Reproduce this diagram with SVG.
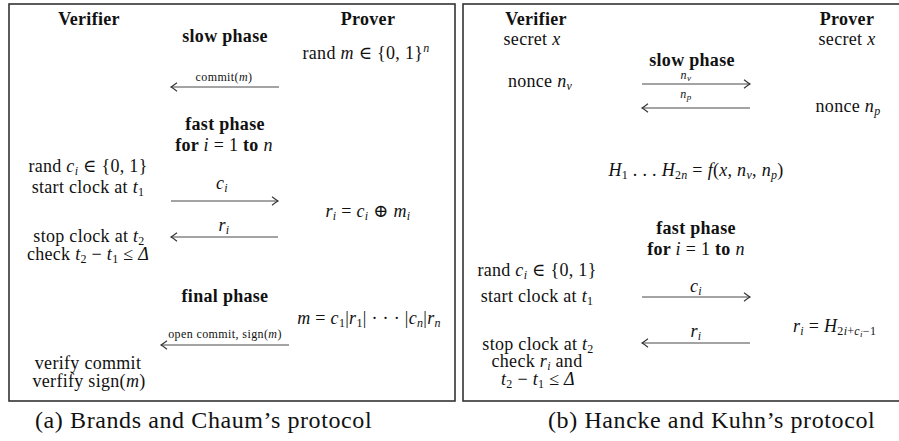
<svg xmlns="http://www.w3.org/2000/svg" width="899" height="441" viewBox="0 0 899 441" font-family="Liberation Serif, DejaVu Serif, Times New Roman, Times, serif">
<style>
text{font-size:18px;fill:#111;letter-spacing:0.3px}
.m{text-anchor:middle}
.b{font-weight:bold}
.i{font-style:italic}
.s{font-size:12px;letter-spacing:0.4px}
.sub{font-size:12px}
.cap{font-size:24px;letter-spacing:0.6px}
.frame{fill:none;stroke:#333;stroke-width:1.6}
.arr{stroke:#333;stroke-width:0.9;fill:none}
</style>
<defs>
<marker id="ah" markerUnits="userSpaceOnUse" markerWidth="12" markerHeight="12" refX="0" refY="0" viewBox="-8 -5 10 10" orient="auto">
<path d="M-5,-3.5 Q-1.5,-0.8 0,0 Q-1.5,0.8 -5,3.5" fill="none" stroke="#333" stroke-width="0.9"/>
</marker>
</defs>
<rect id="frameA" class="frame" x="9" y="4" width="446" height="397"/>
<rect id="frameB" class="frame" x="463" y="4" width="440" height="397"/>

<g id="connectors">
<line class="arr" x1="279" y1="87" x2="171" y2="87" marker-end="url(#ah)"/>
<line class="arr" x1="171" y1="201" x2="278" y2="201" marker-end="url(#ah)"/>
<line class="arr" x1="278" y1="237" x2="171" y2="237" marker-end="url(#ah)"/>
<line class="arr" x1="289" y1="345" x2="161" y2="345" marker-end="url(#ah)"/>
<line class="arr" x1="642" y1="84" x2="750" y2="84" marker-end="url(#ah)"/>
<line class="arr" x1="750" y1="108" x2="642" y2="108" marker-end="url(#ah)"/>
<line class="arr" x1="642" y1="297" x2="750" y2="297" marker-end="url(#ah)"/>
<line class="arr" x1="750" y1="343" x2="642" y2="343" marker-end="url(#ah)"/>
</g>

<g id="panelA">
<g id="a-verifier"><text class="m b" x="89" y="25">Verifier</text></g>
<g id="a-prover"><text class="m b" x="368" y="25">Prover</text></g>
<g id="a-slow"><text class="m b" x="225" y="42">slow phase</text></g>
<g id="a-randm"><text class="m" x="366" y="59">rand <tspan class="i">m</tspan> ∈ {0, 1}<tspan class="i sub" dy="-7">n</tspan></text></g>
<g id="a-commit"><text class="m s" x="224" y="81">commit(<tspan class="i">m</tspan>)</text></g>
<g id="a-fast"><text class="m b" x="225" y="130">fast phase</text><text class="m b" x="224" y="151">for <tspan class="i" font-weight="normal">i</tspan> <tspan font-weight="normal">= 1</tspan> to <tspan class="i" font-weight="normal">n</tspan></text></g>
<g id="a-randc"><text class="m" x="88" y="172">rand <tspan class="i">c</tspan><tspan class="i sub" dy="3">i</tspan><tspan dy="-3"> ∈ {0, 1}</tspan></text></g>
<g id="a-start"><text class="m" x="88" y="193">start clock at <tspan class="i">t</tspan><tspan class="sub" dy="3">1</tspan></text></g>
<g id="a-ci"><text class="m i" x="222" y="189">c<tspan class="sub" dy="3">i</tspan></text></g>
<g id="a-ri-calc"><text class="m" x="368" y="217"><tspan class="i">r</tspan><tspan class="i sub" dy="3">i</tspan><tspan dy="-3"> = </tspan><tspan class="i">c</tspan><tspan class="i sub" dy="3">i</tspan><tspan dy="-3"> ⊕ </tspan><tspan class="i">m</tspan><tspan class="i sub" dy="3">i</tspan></text></g>
<g id="a-ri"><text class="m i" x="224" y="231">r<tspan class="sub" dy="3">i</tspan></text></g>
<g id="a-stop"><text class="m" x="89" y="242">stop clock at <tspan class="i">t</tspan><tspan class="sub" dy="3">2</tspan></text></g>
<g id="a-check"><text class="m" x="88" y="260">check <tspan class="i">t</tspan><tspan class="sub" dy="3">2</tspan><tspan dy="-3"> − </tspan><tspan class="i">t</tspan><tspan class="sub" dy="3">1</tspan><tspan dy="-3"> ≤ </tspan><tspan class="i">Δ</tspan></text></g>
<g id="a-final"><text class="m b" x="225" y="302">final phase</text></g>
<g id="a-mcat"><text class="m" x="369" y="324"><tspan class="i">m</tspan> = <tspan class="i">c</tspan><tspan class="sub" dy="3">1</tspan><tspan dy="-3">|</tspan><tspan class="i">r</tspan><tspan class="sub" dy="3">1</tspan><tspan dy="-3">| · · · |</tspan><tspan class="i">c</tspan><tspan class="i sub" dy="3">n</tspan><tspan dy="-3">|</tspan><tspan class="i">r</tspan><tspan class="i sub" dy="3">n</tspan></text></g>
<g id="a-open"><text class="m s" x="225" y="338">open commit, sign(<tspan class="i">m</tspan>)</text></g>
<g id="a-verify"><text class="m" x="88" y="369">verify commit</text><text class="m" x="89" y="387">verfify sign(<tspan class="i">m</tspan>)</text></g>
</g>

<g id="panelB">
<g id="b-verifier"><text class="m b" x="536" y="25">Verifier</text><text class="m" x="532" y="45">secret <tspan class="i">x</tspan></text></g>
<g id="b-prover"><text class="m b" x="847" y="25">Prover</text><text class="m" x="847" y="45">secret <tspan class="i">x</tspan></text></g>
<g id="b-slow"><text class="m b" x="692" y="66">slow phase</text></g>
<g id="b-nv-label"><text class="m s i" x="686" y="79">n<tspan font-size="9" dy="2">v</tspan></text></g>
<g id="b-nonce-v"><text class="m" x="540" y="87">nonce <tspan class="i">n</tspan><tspan class="i sub" dy="3">v</tspan></text></g>
<g id="b-np-label"><text class="m s i" x="686" y="98">n<tspan font-size="9" dy="2">p</tspan></text></g>
<g id="b-nonce-p"><text class="m" x="848" y="112">nonce <tspan class="i">n</tspan><tspan class="i sub" dy="3">p</tspan></text></g>
<g id="b-hash"><text class="m" x="696" y="176"><tspan class="i">H</tspan><tspan class="sub" dy="3">1</tspan><tspan dy="-3"> . . . </tspan><tspan class="i">H</tspan><tspan class="sub" dy="3">2<tspan class="i">n</tspan></tspan><tspan dy="-3"> = </tspan><tspan class="i">f</tspan>(<tspan class="i">x, n</tspan><tspan class="i sub" dy="3">v</tspan><tspan dy="-3">, </tspan><tspan class="i">n</tspan><tspan class="i sub" dy="3">p</tspan><tspan dy="-3">)</tspan></text></g>
<g id="b-fast"><text class="m b" x="696" y="234">fast phase</text><text class="m b" x="696" y="255">for <tspan class="i" font-weight="normal">i</tspan> <tspan font-weight="normal">= 1</tspan> to <tspan class="i" font-weight="normal">n</tspan></text></g>
<g id="b-randc"><text class="m" x="537" y="276">rand <tspan class="i">c</tspan><tspan class="i sub" dy="3">i</tspan><tspan dy="-3"> ∈ {0, 1}</tspan></text></g>
<g id="b-start"><text class="m" x="537" y="302">start clock at <tspan class="i">t</tspan><tspan class="sub" dy="3">1</tspan></text></g>
<g id="b-ci"><text class="m i" x="696" y="292">c<tspan class="sub" dy="3">i</tspan></text></g>
<g id="b-ri-calc"><text x="793" y="332"><tspan class="i">r</tspan><tspan class="i sub" dy="3">i</tspan><tspan dy="-3"> = </tspan><tspan class="i">H</tspan><tspan class="sub" dy="3">2<tspan class="i">i</tspan>+<tspan class="i">c</tspan><tspan class="i" font-size="9" dy="2">i</tspan><tspan dy="-2">−1</tspan></tspan></text></g>
<g id="b-ri"><text class="m i" x="696" y="337">r<tspan class="sub" dy="3">i</tspan></text></g>
<g id="b-stop"><text class="m" x="538" y="350">stop clock at <tspan class="i">t</tspan><tspan class="sub" dy="3">2</tspan></text></g>
<g id="b-check"><text class="m" x="537" y="367">check <tspan class="i">r</tspan><tspan class="i sub" dy="3">i</tspan><tspan dy="-3"> and</tspan></text><text class="m" x="538" y="385"><tspan class="i">t</tspan><tspan class="sub" dy="3">2</tspan><tspan dy="-3"> − </tspan><tspan class="i">t</tspan><tspan class="sub" dy="3">1</tspan><tspan dy="-3"> ≤ </tspan><tspan class="i">Δ</tspan></text></g>
</g>

<g id="captions">
<text class="cap" x="35" y="428">(a) Brands and Chaum’s protocol</text>
<text class="cap" x="548" y="428">(b) Hancke and Kuhn’s protocol</text>
</g>
</svg>
